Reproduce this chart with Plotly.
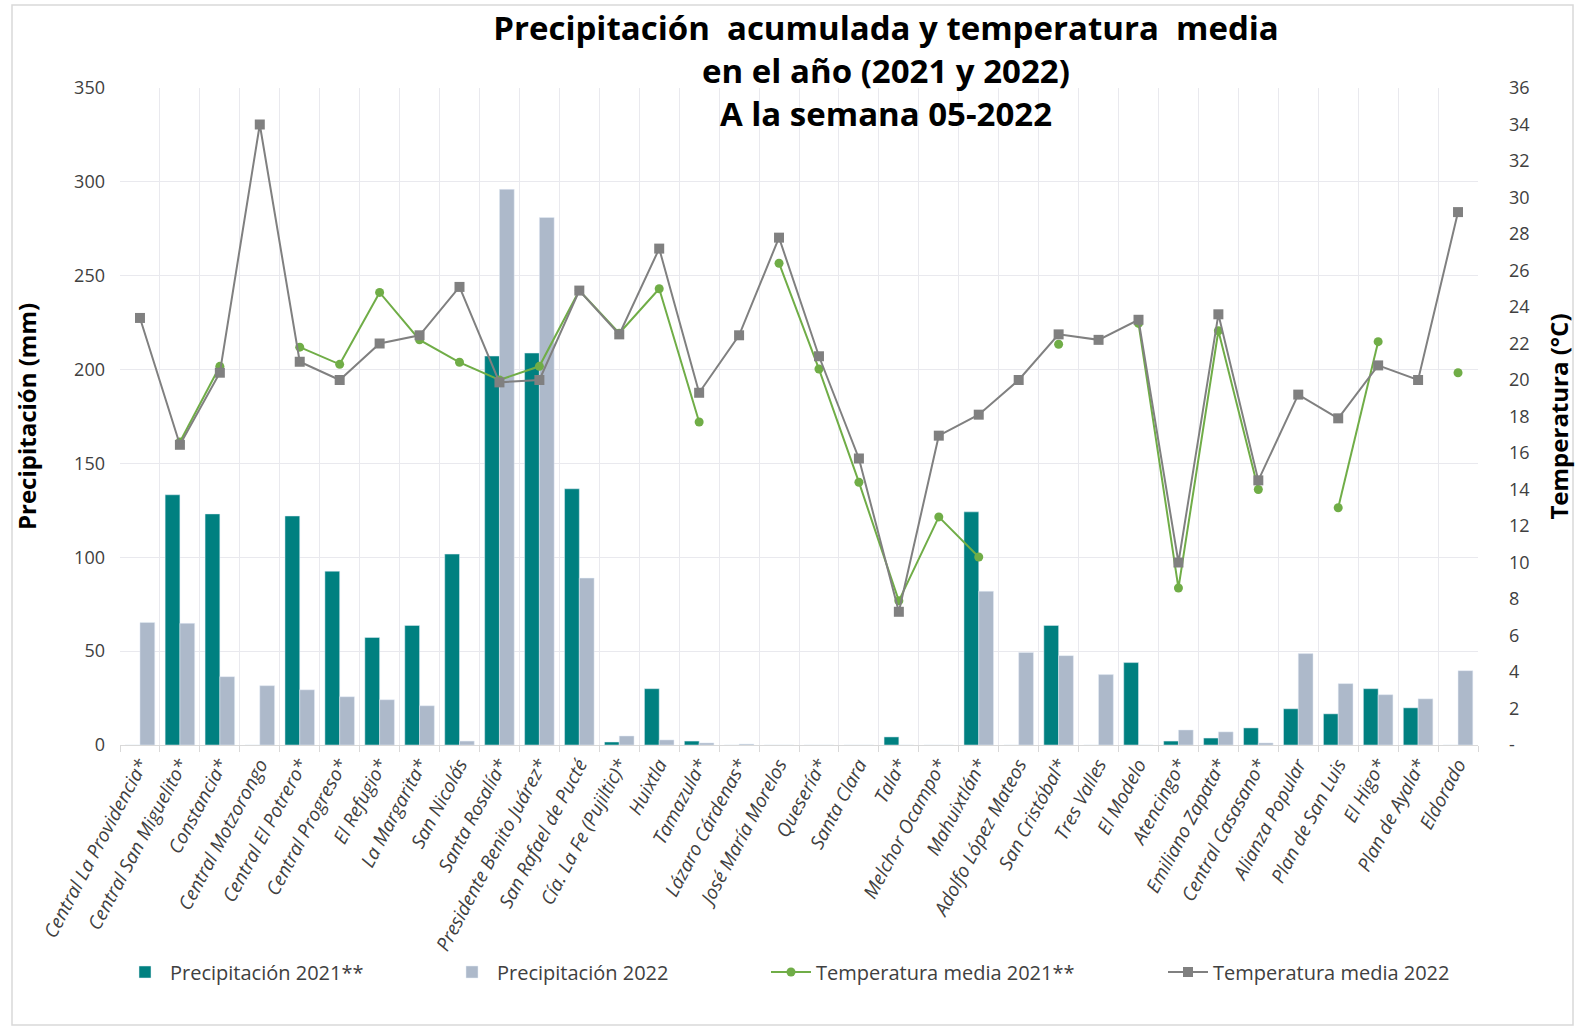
import plotly.graph_objects as go

categories = [
    "Central La Providencia*", "Central San Miguelito*", "Constancia*", "Central Motzorongo",
    "Central El Potrero*", "Central Progreso*", "El Refugio*", "La Margarita*", "San Nicolás",
    "Santa Rosalía*", "Presidente Benito Juárez*", "San Rafael de Pucté", "Cía. La Fe (Pujiltic)*",
    "Huixtla", "Tamazula*", "Lázaro Cárdenas*", "José María Morelos", "Quesería*", "Santa Clara",
    "Tala*", "Melchor Ocampo*", "Mahuixtlán*", "Adolfo López Mateos", "San Cristóbal*",
    "Tres Valles", "El Modelo", "Atencingo*", "Emiliano Zapata*", "Central Casasano*",
    "Alianza Popular", "Plan de San Luis", "El Higo*", "Plan de Ayala*", "Eldorado",
]

precip_2021 = [0, 133.3, 123.1, 0, 122.0, 92.6, 57.3, 63.7, 101.7, 207.2, 208.8, 136.5, 1.6,
               30.0, 2.1, 0, 0, 0, 0, 4.3, 0, 124.2, 0, 63.7, 0, 43.9, 2.1, 3.7, 9.1,
               19.3, 16.6, 30.0, 19.8, 0]
precip_2022 = [65.3, 64.8, 36.4, 31.6, 29.4, 25.7, 24.1, 20.9, 2.1, 296.0, 281.0, 88.9, 4.8,
               2.7, 1.1, 0.5, 0, 0, 0, 0, 0, 81.9, 49.3, 47.6, 37.5, 0, 8.0, 7.0, 1.1,
               48.7, 32.7, 26.8, 24.6, 39.6]
temp_2021 = [None, 16.6, 20.75, None, 21.8, 20.86, 24.8, 22.2, 20.97, 20.0, 20.75, 24.9, 22.56,
             25.0, 17.7, None, 26.4, 20.6, 14.4, 7.9, 12.5, 10.3, None, 21.96, None, 23.1,
             8.6, 22.7, 14.0, None, 13.0, 22.1, None, 20.4]
temp_2022 = [23.4, 16.45, 20.4, 34.0, 21.0, 20.0, 22.0, 22.45, 25.1, 19.87, 20.0, 24.9, 22.5,
             27.2, 19.3, 22.45, 27.8, 21.3, 15.7, 7.3, 16.95, 18.1, 20.0, 22.5, 22.2, 23.3,
             10.0, 23.6, 14.5, 19.2, 17.9, 20.8, 20.0, 29.2]

left_ticks = [0, 50, 100, 150, 200, 250, 300, 350]
right_ticks = list(range(0, 37, 2))
right_ticktext = ["-"] + [str(v) for v in right_ticks[1:]]

FONT = "Open Sans"
TXT = "#404040"
GRID = "#E9E9EE"

fig = go.Figure()
fig.add_trace(go.Bar(x=categories, y=precip_2021, name="Precipitación 2021**",
                     marker_color="#008080", legend="legend", showlegend=True))
fig.add_trace(go.Bar(x=categories, y=precip_2022, name="Precipitación 2022",
                     marker_color="#ADB9CA", legend="legend2", showlegend=True))
fig.add_trace(go.Scatter(x=categories, y=temp_2021, name="Temperatura media 2021**",
                         mode="lines+markers", yaxis="y2", connectgaps=False,
                         line=dict(color="#70AD47", width=2),
                         marker=dict(symbol="circle", size=9, color="#70AD47"),
                         legend="legend3", showlegend=True))
fig.add_trace(go.Scatter(x=categories, y=temp_2022, name="Temperatura media 2022",
                         mode="lines+markers", yaxis="y2",
                         line=dict(color="#808080", width=2),
                         marker=dict(symbol="square", size=10, color="#808080"),
                         legend="legend4", showlegend=True))

W, H = 1575, 1027
L, R, T, B = 120, 97, 88, 282
pw = W - L - R
ph = H - T - B


def px_to_x(px):
    return (px - L) / pw


def px_to_y(py):
    return (H - B - py) / ph


legend_common = dict(orientation="h", yanchor="middle", xanchor="left",
                     font=dict(family=FONT, size=20, color=TXT), itemwidth=40,
                     bgcolor="rgba(0,0,0,0)", visible=True)

fig.update_layout(
    width=W, height=H,
    showlegend=True,
    margin=dict(l=L, r=R, t=T, b=B, autoexpand=False),
    paper_bgcolor="white", plot_bgcolor="white",
    barmode="group", bargap=0.26, bargroupgap=0.0,
    font=dict(family=FONT, color=TXT),
    title=dict(text="<b>Precipitación  acumulada y temperatura  media<br>en el año (2021 y 2022)<br>A la semana 05-2022</b>",
               x=886 / W, xanchor="center", y=1 - 40 / H, yanchor="top",
               font=dict(family=FONT, size=33, color="#000000")),
    xaxis=dict(type="category", range=[-0.5, len(categories) - 0.5], tickson="boundaries",
               showgrid=True, gridcolor=GRID,
               tickangle=-62, tickfont=dict(family=FONT, size=19, color=TXT, style="italic"),
               showline=True, linecolor="#D9D9D9", ticks="outside", ticklen=6,
               tickcolor="#D9D9D9", automargin=False),
    yaxis=dict(range=[0, 350], tickvals=left_ticks, showgrid=True, gridcolor=GRID,
               zeroline=False, tickfont=dict(family=FONT, size=18, color=TXT),
               title=dict(text="<b>Precipitación (mm)</b>", font=dict(family=FONT, size=24, color="#000000"),
                          standoff=30),
               ticklabelstandoff=14, automargin=False),
    yaxis2=dict(range=[0, 36], tickvals=right_ticks, ticktext=right_ticktext, overlaying="y",
                side="right", showgrid=False, zeroline=False,
                tickfont=dict(family=FONT, size=18, color=TXT),
                title=dict(text="<b>Temperatura (°C)</b>", font=dict(family=FONT, size=24, color="#000000"),
                           standoff=26),
                ticklabelstandoff=30, automargin=False),
    legend=dict(x=0, y=px_to_y(972), **legend_common),
    legend2=dict(x=px_to_x(447), y=px_to_y(972), **legend_common),
    legend3=dict(x=px_to_x(766), y=px_to_y(972), **legend_common),
    legend4=dict(x=px_to_x(1163), y=px_to_y(972), **legend_common),
    shapes=[dict(type="rect", xref="paper", yref="paper",
                 x0=px_to_x(12), x1=px_to_x(1573), y0=px_to_y(1025), y1=px_to_y(5),
                 line=dict(color="#D9D9D9", width=1.5), fillcolor="rgba(0,0,0,0)", layer="below")],
)

fig.write_html("out.html", config={"displayModeBar": False},
               post_script="document.body.style.margin='0';")
